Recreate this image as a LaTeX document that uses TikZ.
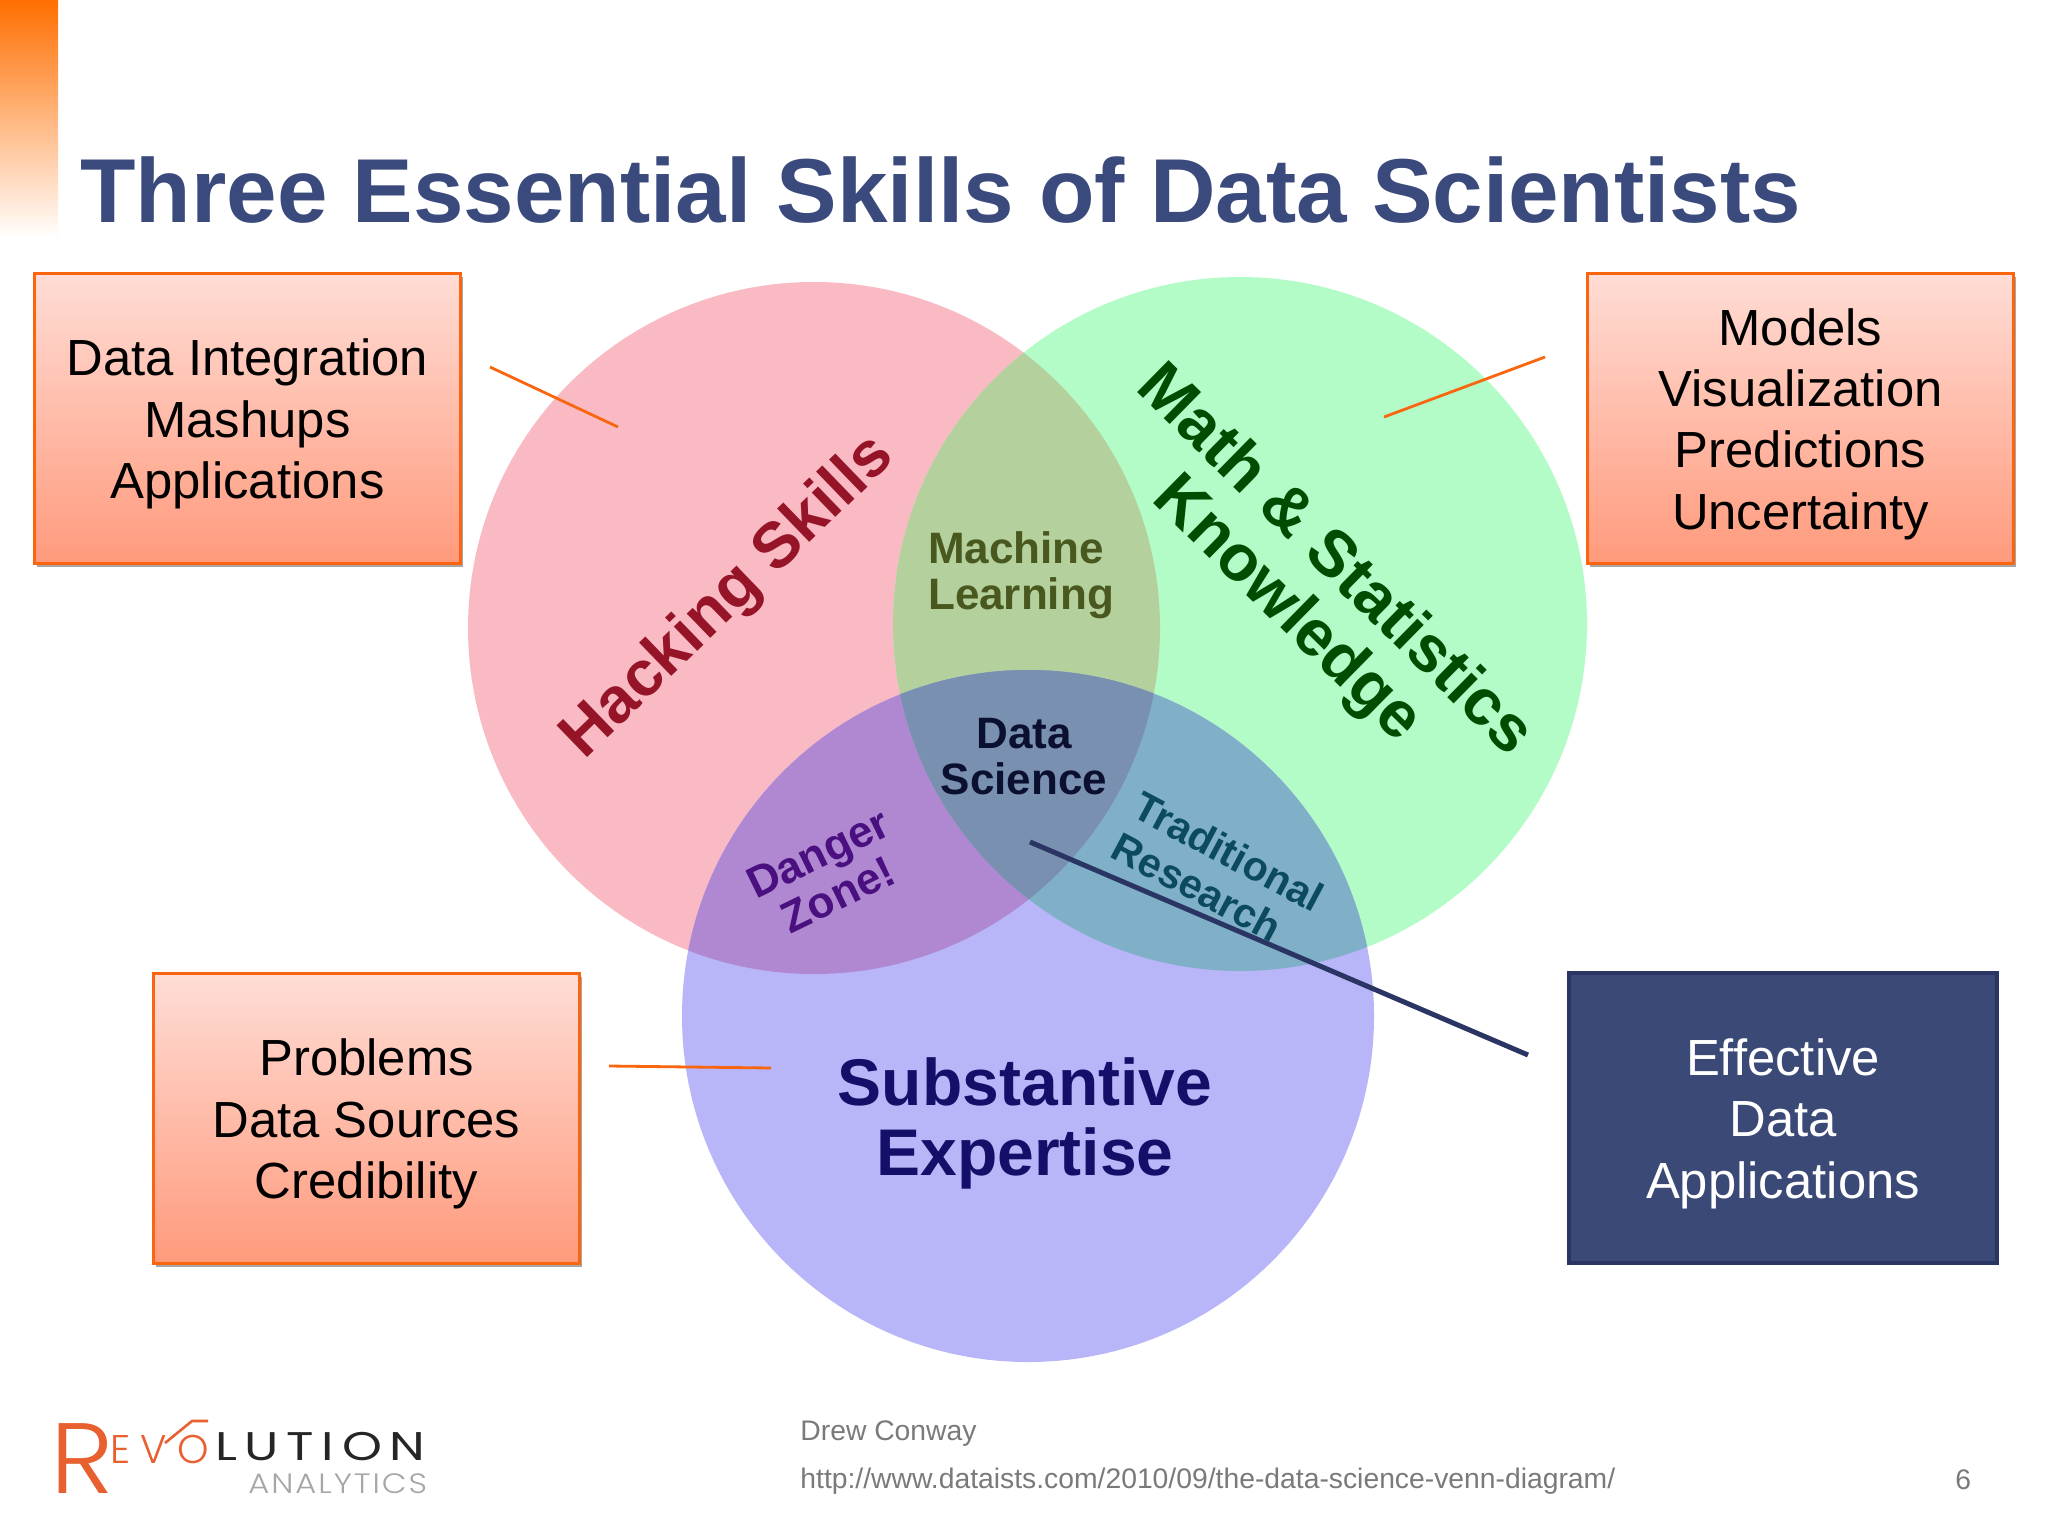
\documentclass[tikz,border=0pt]{standalone}
\usepackage{fontspec}
\setmainfont{Liberation Sans}
\newfontfamily\logofont{Poppins Light}
\newfontfamily\logofontreg{Poppins}
\usetikzlibrary{shadows}
\newcommand{\boxlift}{\rule{0pt}{24.5pt}}
\definecolor{titleblue}{HTML}{3A4A7C}
\definecolor{boxorange}{HTML}{F9660F}
\definecolor{boxtop}{HTML}{FFDDD6}
\definecolor{boxbot}{HTML}{FF9A7C}
\definecolor{navyfill}{HTML}{3B4976}
\definecolor{navyedge}{HTML}{2A3564}
\definecolor{vred}{HTML}{F9BAC4}
\definecolor{vgreen}{HTML}{B3FCC7}
\definecolor{vblue}{HTML}{B8B6F8}
\definecolor{vrg}{HTML}{B4D09C}
\definecolor{vrb}{HTML}{B088D2}
\definecolor{vgb}{HTML}{80B0C8}
\definecolor{vall}{HTML}{7A90B0}
\definecolor{logoorange}{HTML}{E86030}
\tikzset{
  calloutbox/.style={draw=boxorange,line width=1.5pt,top color=boxtop,bottom color=boxbot,
    minimum width=213pt,minimum height=145pt,inner sep=0pt,align=center,
    font=\fontsize{25.4}{30.7}\selectfont,text=black,
    drop shadow={shadow xshift=1pt,shadow yshift=-2pt,opacity=.35,fill=black}},
  navybox/.style={draw=navyedge,line width=2pt,fill=navyfill,
    minimum width=214pt,minimum height=145pt,inner sep=0pt,align=center,
    font=\fontsize{25.4}{30.7}\selectfont,text=white},
  lead/.style={draw=boxorange,line width=1.4pt},
  leaddark/.style={draw=navyedge,line width=2.5pt},
  logostroke/.style={draw=logoorange,line width=1.3pt},
  vennbig/.style={font=\fontsize{33}{35}\bfseries\selectfont,inner sep=0pt,align=center},
  vennsmall/.style={font=\fontsize{22}{23}\bfseries\selectfont,inner sep=0pt},
  footer/.style={text=black!52,font=\fontsize{14.15}{17}\selectfont,inner sep=0pt,anchor=west},
  logotext/.style={anchor=base west,inner sep=0pt},
}
\begin{document}
\begin{tikzpicture}[x=.5pt,y=-.5pt]
\useasboundingbox (0,0) rectangle (2048,1536);
\fill[white] (0,0) rectangle (2048,1536);
% corner bar
\shade[top color={rgb,255:red,255;green,110;blue,0},bottom color=white] (0,0) rectangle (58,238);
% title
\node[anchor=base west,inner sep=0pt,text=titleblue,font=\fontsize{45.4}{50}\bfseries\selectfont] (title) at (80,222) {Three Essential Skills of Data Scientists};
% venn
\coordinate (cr) at (814,628);
\coordinate (cg) at (1240,624);
\coordinate (cb) at (1028,1016);
\fill[vred] (cr) circle [radius=346];
\fill[vgreen] (cg) circle [radius=347];
\fill[vblue] (cb) circle [radius=346];
\begin{scope}\clip (cr) circle [radius=346]; \fill[vrg] (cg) circle [radius=347]; \end{scope}
\begin{scope}\clip (cr) circle [radius=346]; \fill[vrb] (cb) circle [radius=346]; \end{scope}
\begin{scope}\clip (cg) circle [radius=347]; \fill[vgb] (cb) circle [radius=346]; \end{scope}
\begin{scope}\clip (cr) circle [radius=346]; \clip (cg) circle [radius=347]; \fill[vall] (cb) circle [radius=346]; \end{scope}
% venn labels
\node[vennbig,text={rgb,255:red,150;green,20;blue,40},rotate=44,font=\fontsize{32}{35}\bfseries\selectfont] (hack) at (729,598) {Hacking Skills};
\node[vennbig,text=green!30!black,rotate=-44.5,font=\fontsize{32.6}{34}\bfseries\selectfont] (math) at (1310,586) {Math \& Statistics\\Knowledge};
\node[vennbig,text={rgb,255:red,20;green,16;blue,106}] (subst) at (1025,1123) {Substantive\\Expertise};
\node[vennsmall,align=left,text={rgb,255:red,72;green,88;blue,30}] (ml) at (1021,575) {Machine\\Learning};
\node[vennsmall,align=center,text={rgb,255:red,12;green,16;blue,48}] (ds) at (1024,757) {Data\\Science};
\node[vennsmall,align=center,rotate=26,text={rgb,255:red,74;green,16;blue,128}] (dz) at (828,874) {Danger\\Zone!};
\node[vennsmall,align=left,rotate=-28,text={rgb,255:red,12;green,74;blue,96},font=\fontsize{20.5}{23}\bfseries\selectfont] (tr) at (1218,872) {Traditional\\Research};
% boxes
\node[calloutbox] (b1) at (247.5,418) {\boxlift Data Integration\\Mashups\\Applications};
\node[calloutbox] (b2) at (1800.5,418) {\boxlift Models\\Visualization\\Predictions\\Uncertainty};
\node[calloutbox] (b3) at (366.5,1118) {\boxlift Problems\\Data Sources\\Credibility};
\node[navybox] (b4) at (1783,1117.5) {\boxlift Effective\\Data\\Applications};
% leader lines
\coordinate (l1a) at (490,367); \coordinate (l1b) at (618,427);
\coordinate (l2a) at (1545,357); \coordinate (l2b) at (1384,417);
\coordinate (l3a) at (609,1066); \coordinate (l3b) at (771,1068);
\coordinate (l4a) at (1030,842); \coordinate (l4b) at (1528,1055);
\draw[lead] (l1a) -- (l1b);
\draw[lead] (l2a) -- (l2b);
\draw[lead] (l3a) -- (l3b);
\draw[leaddark] (l4a) -- (l4b);
% logo
\node[logotext,text=logoorange,font=\logofont\fontsize{50}{50}\selectfont] (lr) at (50,1493) {\scalebox{1.08}[1]{R}};
\node[logotext,text=logoorange,font=\logofont\fontsize{20}{20}\selectfont] (le) at (110,1463) {E};
\node[logotext,text=logoorange,font=\logofont\fontsize{20}{20}\selectfont] (lv) at (140,1463) {V};
\node[logotext,text=logoorange,font=\logofont\fontsize{20}{20}\selectfont] (lo) at (177,1463) {O};
\coordinate (vtip) at (165,1443); \coordinate (vtop) at (192,1421); \coordinate (vend) at (208,1421);
\draw[logostroke] (vtip) -- (vtop) -- (vend);
\node[logotext,text=black!85,font=\logofontreg\fontsize{20}{20}\selectfont] (lut) at (215,1460) {\scalebox{1.27}[1]{\addfontfeature{LetterSpace=15}LUTION}};
\node[logotext,text=black!35,font=\logofont\fontsize{14}{14}\selectfont] (lan) at (248,1493) {\scalebox{1.15}[1]{\addfontfeature{LetterSpace=6}ANALYTICS}};
% footer
\node[footer] (f1) at (800,1434) {Drew Conway};
\node[footer] (f2) at (800,1481) {http://www.dataists.com/2010/09/the-data-science-venn-diagram/};
\node[footer] (f3) at (1955,1480) {6};
\end{tikzpicture}
\end{document}
